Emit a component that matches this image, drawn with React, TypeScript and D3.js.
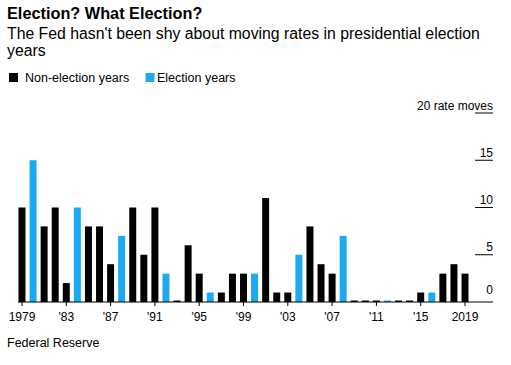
import * as d3 from "d3";

const years = d3.range(1979, 2020);
const rateMoves = [
  10, 15, 8, 10, 2, 10, 8, 8, 4, 7, 10, 5, 10, 3, 0, 6, 3, 1, 1, 3, 3, 3,
  11, 1, 1, 5, 8, 4, 3, 7, 0, 0, 0, 0, 0, 0, 1, 1, 3, 4, 3,
];
const yTicks = [0, 5, 10, 15, 20];
const xTickYears = [1979, 1983, 1987, 1991, 1995, 1999, 2003, 2007, 2011, 2015, 2019];

const BLACK = "#000000";
const BLUE = "#1ba9f2";
const FONT = "'Liberation Sans', Arial, Helvetica, sans-serif";

const isElection = (y: number) => y % 4 === 0;

export default function App() {
  const width = 511;
  const height = 365;
  const baseY = 302;
  const axisRight = 493;

  const x = d3
    .scaleBand<number>()
    .domain(years)
    .range([16.5, 470.5])
    .paddingInner(0.37)
    .paddingOuter(0.18);

  const y = d3.scaleLinear().domain([0, 20]).range([baseY, 113]);

  const fmtYear = (yr: number) =>
    yr === 1979 || yr === 2019 ? String(yr) : "'" + String(yr).slice(2);

  return (
    <svg
      width={width}
      height={height}
      style={{ position: "absolute", left: 0, top: 0, background: "#fff" }}
      fontFamily={FONT}
    >
      <text x={7} y={18.5} fontSize={16.3} fontWeight="bold" fill="#000">
        Election? What Election?
      </text>
      <text x={7} y={38.5} fontSize={15.8} fill="#000">
        The Fed hasn't been shy about moving rates in presidential election
      </text>
      <text x={7} y={55.5} fontSize={15.8} fill="#000">
        years
      </text>

      {/* legend */}
      <rect x={9} y={73} width={9} height={9} fill={BLACK} />
      <text x={25} y={82} fontSize={12.5} fill="#000">
        Non-election years
      </text>
      <rect x={145.5} y={73} width={9} height={9} fill={BLUE} />
      <text x={157} y={82} fontSize={12.5} fill="#000">
        Election years
      </text>

      {/* y axis ticks on the right */}
      {yTicks.map((t) => (
        <g key={t}>
          {t > 0 && (
            <line x1={475} x2={axisRight} y1={y(t)} y2={y(t)} stroke="#000" strokeWidth={1} />
          )}
          <text
            x={axisRight}
            y={y(t) - (t === 0 ? 8 : 3.5)}
            fontSize={12}
            textAnchor="end"
            fill="#000"
          >
            {t === 20 ? "20 rate moves" : t}
          </text>
        </g>
      ))}

      {/* bars */}
      {years.map((yr, i) => {
        const v = rateMoves[i];
        const top = v === 0 ? baseY - 1.5 : y(v);
        return (
          <rect
            key={yr}
            x={x(yr)}
            y={top}
            width={x.bandwidth()}
            height={baseY - top}
            fill={isElection(yr) ? BLUE : BLACK}
          />
        );
      })}

      {/* baseline */}
      <line x1={18} x2={axisRight} y1={baseY} y2={baseY} stroke="#000" strokeWidth={1} />

      {/* x ticks */}
      {xTickYears.map((yr) => {
        const cx = (x(yr) ?? 0) + x.bandwidth() / 2;
        return (
          <g key={yr}>
            <line x1={cx} x2={cx} y1={baseY} y2={baseY + 4} stroke="#000" />
            <text x={cx} y={321} fontSize={12} textAnchor="middle" fill="#000">
              {fmtYear(yr)}
            </text>
          </g>
        );
      })}

      <text x={7} y={347} fontSize={12.5} fill="#000">
        Federal Reserve
      </text>
    </svg>
  );
}
